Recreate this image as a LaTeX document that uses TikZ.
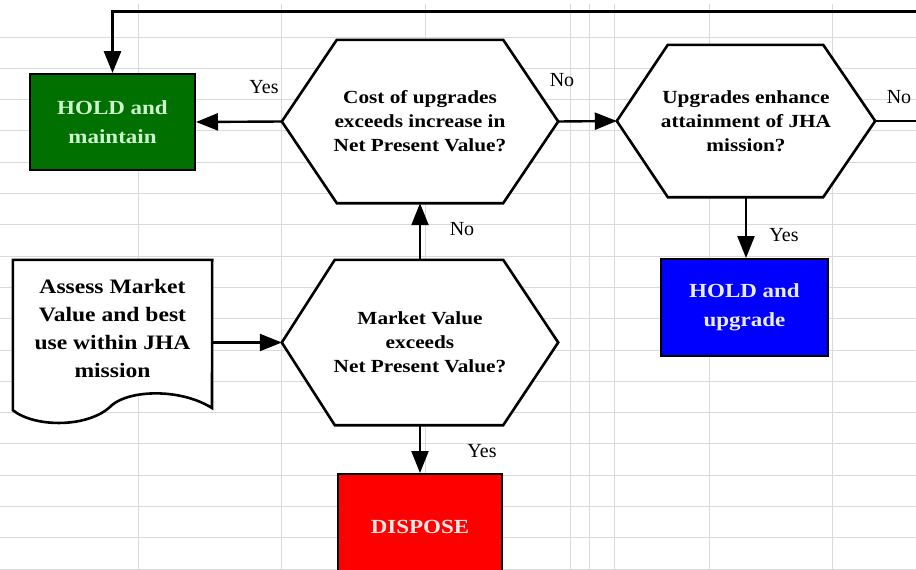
\documentclass[tikz,border=0pt]{standalone}
\usepackage{fontspec}
\setmainfont{Liberation Serif}
\newfontfamily\stretchfont[FakeStretch=1.15]{Liberation Serif}
\usetikzlibrary{arrows.meta}
\pgfdeclarelayer{bg}
\pgfdeclarelayer{mid}
\pgfsetlayers{bg,mid,main}
\definecolor{hgreen}{RGB}{0,112,0}
\definecolor{hgreentext}{RGB}{205,245,205}
\definecolor{hblue}{RGB}{0,0,255}
\definecolor{hbluetext}{RGB}{235,235,255}
\definecolor{hred}{RGB}{255,0,0}
\definecolor{hredtext}{RGB}{255,230,230}
\definecolor{gridgray}{RGB}{218,218,218}
\begin{document}
\begin{tikzpicture}[x=1pt,y=-1pt,
  grid/.style={draw=gridgray, line width=0.9pt},
  conn/.style={line width=2.4pt},
  arr/.style={conn,-{Triangle[length=22pt,width=17pt]}},
  outline/.style={line width=2.6pt, line join=miter, fill=white},
  action/.style={draw=black, line width=2pt, inner sep=0pt, align=center,
    font=\stretchfont\fontsize{20}{29}\selectfont\bfseries},
  hexcarrier/.style={inner sep=0pt, align=center,
    font=\stretchfont\fontsize{18.5}{24}\selectfont\bfseries},
  doctext/.style={inner sep=0pt, align=center,
    font=\stretchfont\fontsize{20.5}{28}\selectfont\bfseries},
  lbl/.style={font=\fontsize{20}{24}\selectfont, inner sep=0pt},
]
\useasboundingbox (0,0) rectangle (916,570);

% spreadsheet grid
\begin{pgfonlayer}{bg}
  \fill[white] (0,0) rectangle (916,570);
  \foreach \k in {0,...,17} \draw[grid] (0,{37+31.3*\k}) -- (916,{37+31.3*\k});
  \foreach \xx in {138,281,425,570,589,614,709,832} \draw[grid] (\xx,4) -- (\xx,570);
\end{pgfonlayer}

% decision hexagons (text carriers)
\node[hexcarrier, minimum width=276pt, minimum height=163pt] (h1) at (420,121.5)
  {Cost of upgrades\\exceeds increase in\\Net Present Value?};
\node[hexcarrier, minimum width=258pt, minimum height=152pt] (h2) at (746,121)
  {Upgrades enhance\\attainment of JHA\\mission?};
\node[hexcarrier, minimum width=276pt, minimum height=165pt] (h3) at (420,342.5)
  {Market Value\\exceeds\\Net Present Value?};

% action boxes
\node[action, fill=hgreen, text=hgreentext, minimum width=165pt, minimum height=96pt]
  (hold) at (112.5,122) {HOLD and\\maintain};
\node[action, fill=hblue, text=hbluetext, minimum width=167pt, minimum height=97pt]
  (blue) at (744.5,307.5) {HOLD and\\upgrade};
\node[action, fill=hred, text=hredtext, minimum width=164pt, minimum height=106pt]
  (red) at (420,527) {DISPOSE};

% document shape
\node[minimum width=199pt, minimum height=150pt, inner sep=0pt] (doc) at (112.5,335) {};
\node[doctext] (doct) at (112.5,328) {Assess Market\\Value and best\\use within JHA\\mission};

\begin{pgfonlayer}{mid}
  \draw[outline] (h1.west) -- ([xshift=55pt]h1.north west) -- ([xshift=-55pt]h1.north east)
    -- (h1.east) -- ([xshift=-55pt]h1.south east) -- ([xshift=55pt]h1.south west) -- cycle;
  \draw[outline] (h2.west) -- ([xshift=51pt]h2.north west) -- ([xshift=-52pt]h2.north east)
    -- (h2.east) -- ([xshift=-52pt]h2.south east) -- ([xshift=51pt]h2.south west) -- cycle;
  \draw[outline] (h3.west) -- ([xshift=53pt]h3.north west) -- ([xshift=-55pt]h3.north east)
    -- (h3.east) -- ([xshift=-55pt]h3.south east) -- ([xshift=53pt]h3.south west) -- cycle;
  \draw[outline] (doc.south west) .. controls (35,428) and (90,428) .. (112,405)
    .. controls (130,390) and (180,388) .. (212,408) -- (doc.north east) -- (doc.north west) -- cycle;
\end{pgfonlayer}

% connector free ends at the right edge
\coordinate (e1) at (916,121);
\coordinate (e2) at (916,11);

% connectors
\draw[arr] (h1.west) -- (hold.east);
\draw[arr] (h1.east) -- (h2.west);
\draw[conn] (h2.east) -- (e1);
\draw[arr, line width=3pt] (e2) -| (hold.north);
\draw[arr] (h2.south) -- (h2.south |- blue.north);
\draw[arr] (doc.east |- h3.west) -- (h3.west);
\draw[arr] (h3.north) -- (h1.south);
\draw[arr] (h3.south) -- (red.north);

% labels
\node[lbl] (l1) at (264,87) {Yes};
\node[lbl] (l2) at (562,80) {No};
\node[lbl] (l3) at (899,97) {No};
\node[lbl] (l4) at (784,235) {Yes};
\node[lbl] (l5) at (462,229) {No};
\node[lbl] (l6) at (482,451) {Yes};
\end{tikzpicture}
\end{document}
